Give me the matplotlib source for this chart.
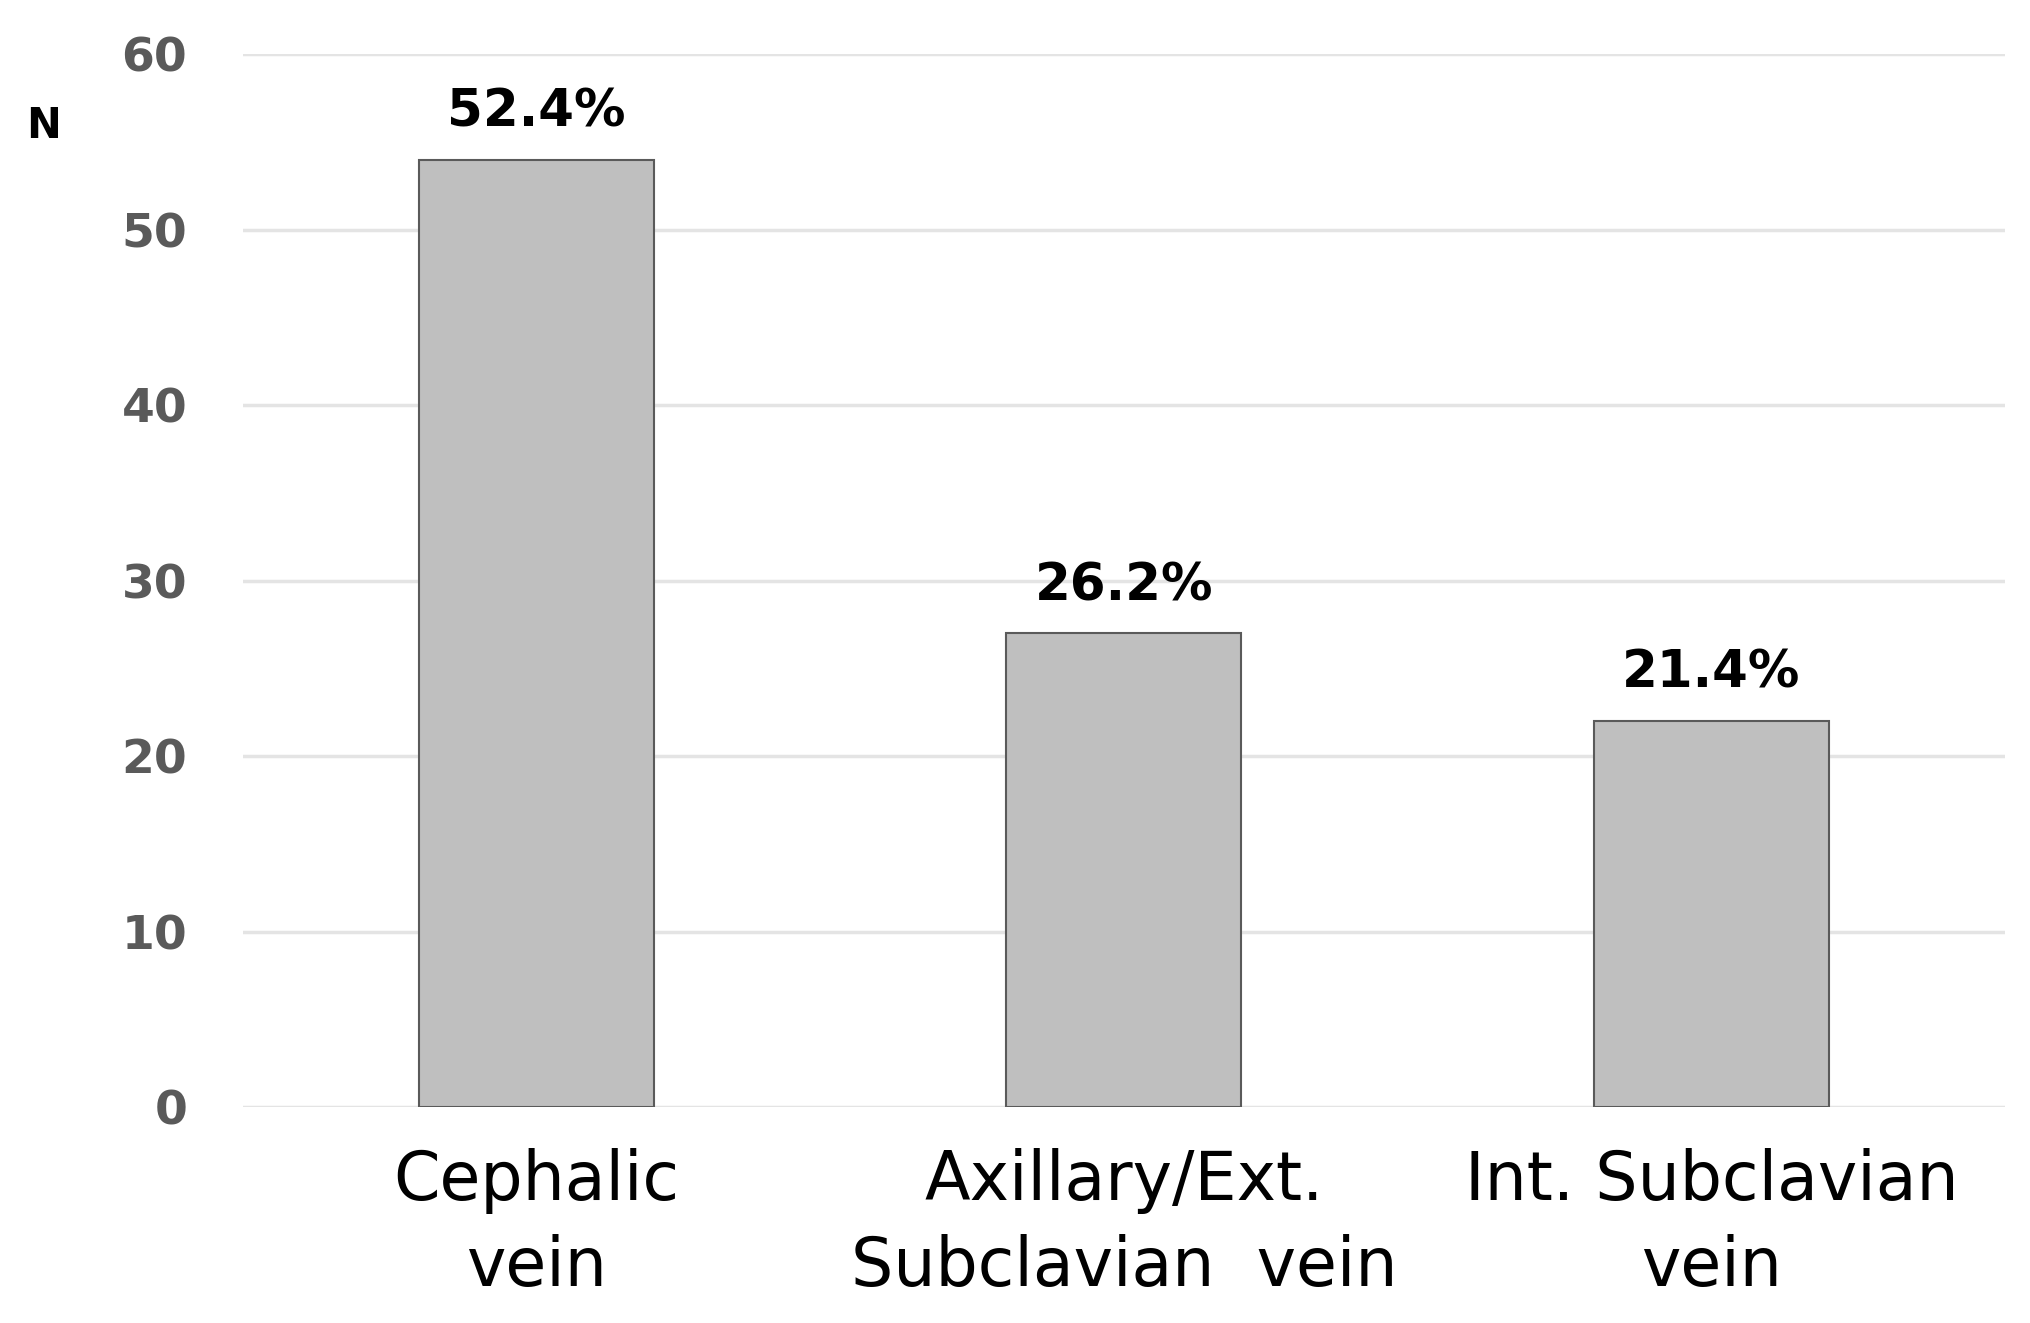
import matplotlib.pyplot as plt
import numpy as np
from matplotlib import font_manager

categories = ["Cephalic\nvein", "Axillary/Ext.\nSubclavian  vein", "Int. Subclavian\nvein"]
counts = [54, 27, 22]
percent_labels = ["52.4%", "26.2%", "21.4%"]
yticks = [0, 10, 20, 30, 40, 50, 60]

# narrow font for the category labels if there is one
names = {f.name for f in font_manager.fontManager.ttflist}
if "Liberation Sans Narrow" in names:
    cat_font, cat_size, cat_ls = "Liberation Sans Narrow", 58, 1.2
else:
    cat_font, cat_size, cat_ls = "DejaVu Sans", 48, 1.4

fig = plt.figure(figsize=(20.31, 13.23), dpi=100)
ax = fig.add_axes([0.1196, 0.163, 0.8676, 0.796])

x = np.arange(len(categories))
ax.bar(x, counts, width=0.4, color="#bfbfbf", edgecolor="#5a5a5a", linewidth=1.5, zorder=3)

for xi, c, lab in zip(x, counts, percent_labels):
    ax.annotate(lab, (xi, c), xytext=(0, 24), textcoords="offset points",
                ha="center", va="baseline", fontsize=37, fontweight="bold", color="black")

ax.set_xlim(-0.5, 2.5)
ax.set_ylim(0, 60)
ax.set_yticks(yticks)
ax.yaxis.grid(True, color="#e4e4e4", linewidth=2.5, zorder=0)
ax.set_axisbelow(True)
for s in ax.spines.values():
    s.set_visible(False)
ax.tick_params(axis="y", length=0, pad=40, labelsize=34, labelcolor="#5a5a5a")
for t in ax.get_yticklabels():
    t.set_fontweight("bold")
ax.set_xticks(x)
ax.set_xticklabels(categories, fontsize=cat_size, linespacing=cat_ls, family=cat_font)
ax.tick_params(axis="x", length=0, pad=29)

fig.text(0.0128, 0.896, "N", fontsize=30, fontweight="bold", ha="left", va="baseline")

fig.savefig("out.png", dpi=100)
